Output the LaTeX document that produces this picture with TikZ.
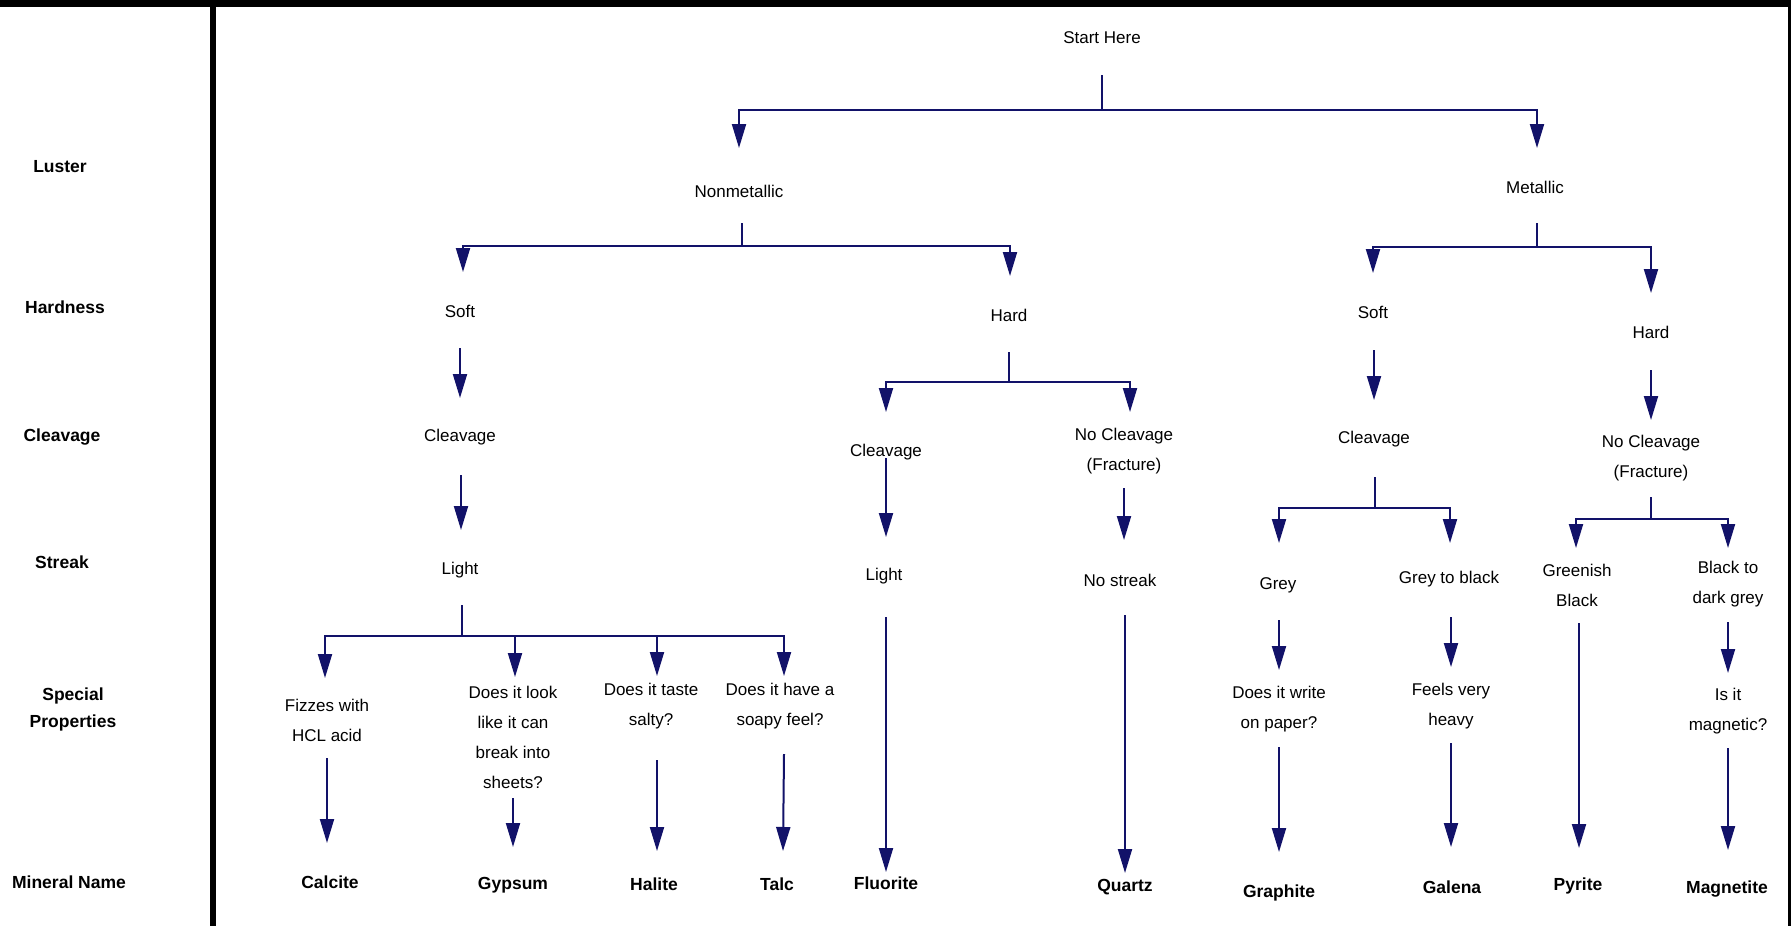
\documentclass[tikz,border=0pt]{standalone}
\usepackage{fontspec}
\setmainfont{Liberation Sans}
\usetikzlibrary{arrows.meta,calc}
\definecolor{navyc}{RGB}{18,18,105}
\begin{document}
\begin{tikzpicture}[x=1pt,y=-1pt,
  txt/.style={inner sep=0pt,align=center,font=\fontsize{17}{30}\selectfont},
  lbl/.style={inner sep=0pt,align=center,font=\fontsize{17.5}{27}\selectfont\bfseries},
  mnr/.style={inner sep=0pt,font=\fontsize{17.5}{27}\selectfont\bfseries},
  ln/.style={draw=navyc,line width=2pt},
  arr/.style={ln,-{Triangle[width=14pt,length=24pt]},navyc}]
\useasboundingbox (0,0) rectangle (1791,926);
\fill[white] (0,0) rectangle (1791,926);
% frame
\fill[black] (0,0) rectangle (1791,7);
\fill[black] (210,0) rectangle (216,926);
\fill[black] (1788,0) rectangle (1791,926);
% left labels
\node[lbl] (lLuster) at (60,167) {Luster};
\node[lbl] (lHard) at (65,307) {Hardness};
\node[lbl] (lCleav) at (62,437) {Cleavage};
\node[lbl] (lStreak) at (62,562) {Streak};
\node[lbl] (lSpec) at (73,709) {Special\\Properties};
\node[lbl] (lMin) at (69,882) {Mineral Name};
% tree nodes
\node[txt] (start) at (1102,38) {Start Here};
\node[txt] (nonmet) at (739,191) {Nonmetallic};
\node[txt] (metal) at (1535,187) {Metallic};
\node[txt] (nsoft) at (460,311) {Soft};
\node[txt] (nhard) at (1009,315) {Hard};
\node[txt] (msoft) at (1373,312) {Soft};
\node[txt] (mhard) at (1651,332) {Hard};
\node[txt] (ncleav) at (460,437) {Cleavage};
\node[txt] (nhcleav) at (886,452) {Cleavage};
\node[txt] (nhnocl) at (1124,451) {No Cleavage\\(Fracture)};
\node[txt] (mcleav) at (1374,439) {Cleavage};
\node[txt] (mnocl) at (1651,458) {No Cleavage\\(Fracture)};
\node[txt] (nlight) at (460,570) {Light};
\node[txt] (nhlight) at (884,576) {Light};
\node[txt] (nostreak) at (1120,580) {No streak};
\node[txt] (grey) at (1278,585) {Grey};
\node[txt] (greyblack) at (1449,579) {Grey to black};
\node[txt] (greenish) at (1577,585) {Greenish\\Black};
\node[txt] (blackdark) at (1728,584) {Black to\\dark grey};
\node[txt] (fizz) at (327,720) {Fizzes with\\HCL acid};
\node[txt] (sheets) at (513,737) {Does it look\\like it can\\break into\\sheets?};
\node[txt] (salty) at (651,706) {Does it taste\\salty?};
\node[txt] (soapy) at (780,706) {Does it have a\\soapy feel?};
\node[txt] (write) at (1279,709) {Does it write\\on paper?};
\node[txt] (heavy) at (1451,706) {Feels very\\heavy};
\node[txt] (magnetic) at (1728,711) {Is it\\magnetic?};
% minerals
\node[mnr] (calcite) at (330,882) {Calcite};
\node[mnr] (gypsum) at (513,885) {Gypsum};
\node[mnr] (halite) at (654,884) {Halite};
\node[mnr] (talc) at (777,884) {Talc};
\node[mnr] (fluorite) at (886,883) {Fluorite};
\node[mnr] (quartz) at (1125,887) {Quartz};
\node[mnr] (graphite) at (1279,893) {Graphite};
\node[mnr] (galena) at (1452,887) {Galena};
\node[mnr] (pyrite) at (1578,886) {Pyrite};
\node[mnr] (magnetite) at (1727,889) {Magnetite};
% connectors
\draw[arr] ($(start)+(0,37)$) -- ++(0,35) -| ($(nonmet)+(0,-43)$);
\draw[arr] ($(start)+(0,72)$) -| ($(metal)+(2,-39)$);
\draw[arr] ($(nonmet)+(3,32)$) -- ++(0,23) -| ($(nsoft)+(3,-39)$);
\draw[arr] ($(nonmet)+(3,55)$) -| ($(nhard)+(1,-39)$);
\draw[arr] ($(metal)+(2,36)$) -- ++(0,24) -| ($(msoft)+(0,-39)$);
\draw[arr] ($(metal)+(2,60)$) -| ($(mhard)+(0,-39)$);
\draw[arr] ($(nsoft)+(0,37)$) -- ($(ncleav)+(0,-39)$);
\draw[arr] ($(ncleav)+(1,38)$) -- ($(nlight)+(1,-40)$);
\draw[ln] ($(nlight)+(2,35)$) -- ($(nlight)+(2,66)$);
\draw[arr] ($(nlight)+(2,66)$) -| ($(fizz)+(-2,-42)$);
\draw[arr] ($(nlight)+(2,66)$) -| ($(sheets)+(2,-60)$);
\draw[arr] ($(nlight)+(2,66)$) -| ($(salty)+(6,-30)$);
\draw[arr] ($(nlight)+(2,66)$) -| ($(soapy)+(4,-30)$);
\draw[arr] ($(fizz)+(0,38)$) -- ($(calcite)+(-3,-39)$);
\draw[arr] ($(sheets)+(0,61)$) -- ($(gypsum)+(0,-38)$);
\draw[arr] ($(salty)+(6,54)$) -- ($(halite)+(3,-33)$);
\draw[arr] ($(soapy)+(4,48)$) -- ($(talc)+(6,-33)$);
\draw[arr] ($(nhard)+(0,37)$) -- ++(0,30) -| ($(nhcleav)+(0,-40)$);
\draw[arr] ($(nhard)+(0,67)$) -| ($(nhnocl)+(6,-39)$);
\draw[arr] ($(nhcleav)+(0,6)$) -- ($(nhlight)+(2,-39)$);
\draw[arr] ($(nhnocl)+(0,37)$) -- ($(nostreak)+(4,-40)$);
\draw[arr] ($(nhlight)+(2,41)$) -- ($(fluorite)+(0,-11)$);
\draw[arr] ($(nostreak)+(5,35)$) -- ($(quartz)+(0,-14)$);
\draw[arr] ($(msoft)+(1,38)$) -- ($(mcleav)+(0,-39)$);
\draw[arr] ($(mcleav)+(1,38)$) -- ++(0,31) -| ($(grey)+(1,-42)$);
\draw[arr] ($(mcleav)+(1,69)$) -| ($(greyblack)+(1,-36)$);
\draw[arr] ($(grey)+(1,35)$) -- ($(write)+(0,-39)$);
\draw[arr] ($(write)+(0,38)$) -- ($(graphite)+(0,-41)$);
\draw[arr] ($(greyblack)+(2,38)$) -- ($(heavy)+(0,-39)$);
\draw[arr] ($(heavy)+(0,37)$) -- ($(galena)+(-1,-40)$);
\draw[arr] ($(mhard)+(0,38)$) -- ($(mnocl)+(0,-38)$);
\draw[arr] ($(mnocl)+(0,39)$) -- ++(0,22) -| ($(greenish)+(-1,-37)$);
\draw[arr] ($(mnocl)+(0,61)$) -| ($(blackdark)+(0,-36)$);
\draw[arr] ($(greenish)+(2,38)$) -- ($(pyrite)+(1,-38)$);
\draw[arr] ($(blackdark)+(0,38)$) -- ($(magnetic)+(0,-38)$);
\draw[arr] ($(magnetic)+(0,37)$) -- ($(magnetite)+(1,-39)$);
\end{tikzpicture}
\end{document}
